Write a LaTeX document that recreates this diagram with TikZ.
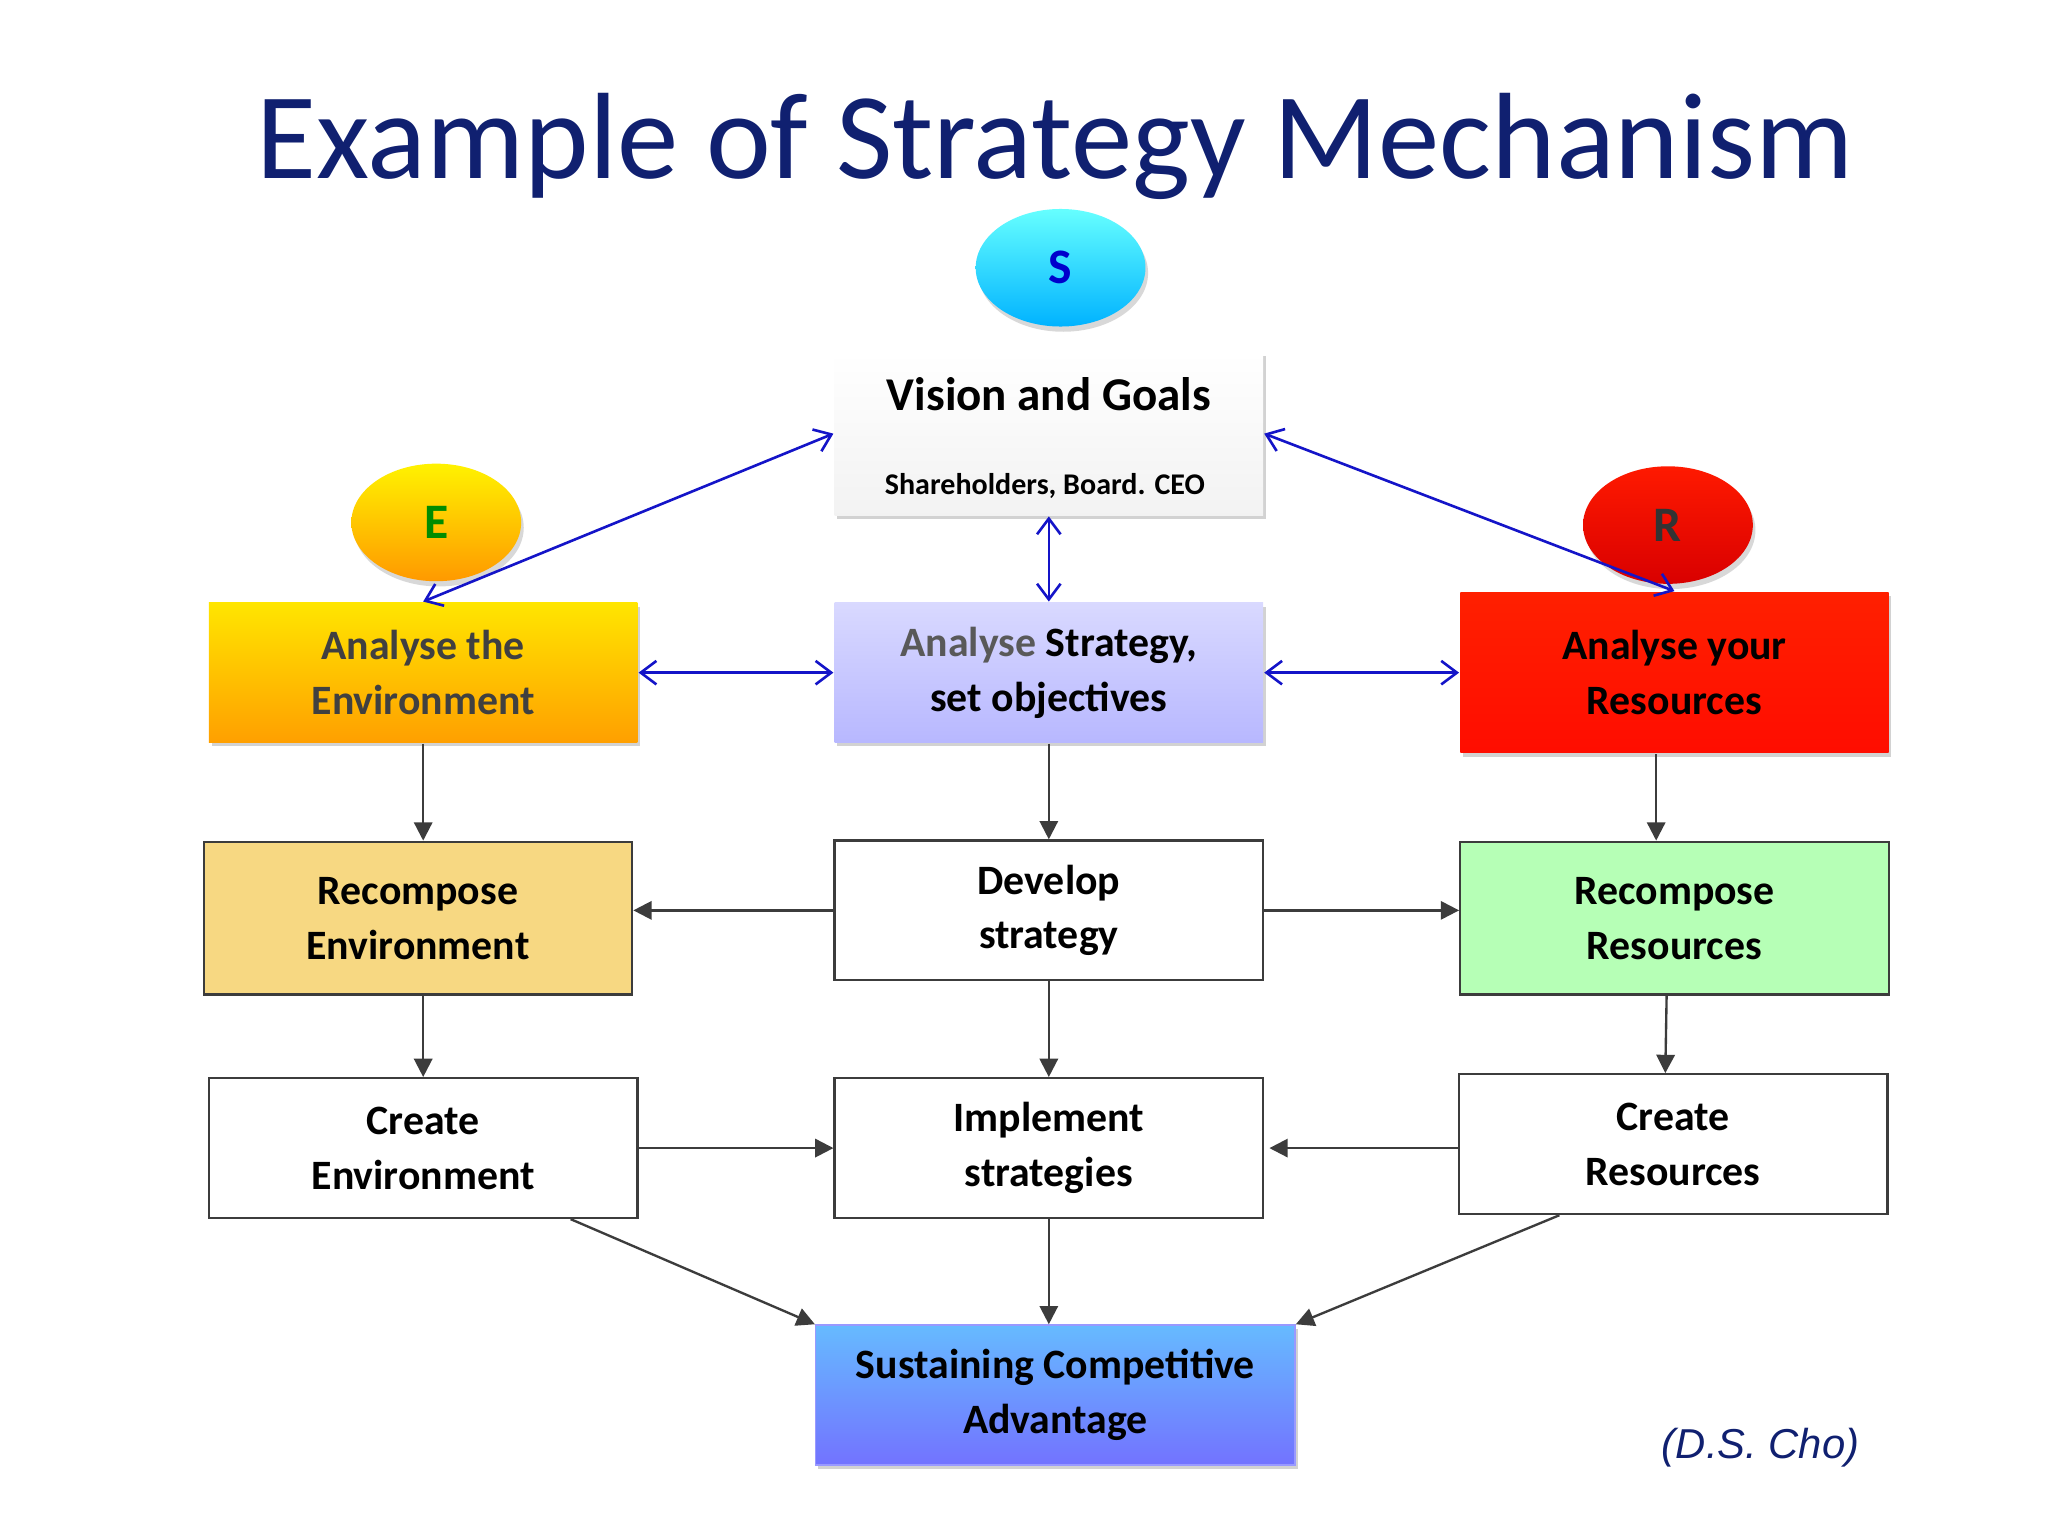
\documentclass[tikz,border=0pt]{standalone}
\usepackage{fontspec}
\setmainfont{Carlito}
\newfontfamily\arialf{Liberation Sans}
\usetikzlibrary{shadows,arrows.meta,shapes.geometric}
\definecolor{navy}{RGB}{16,32,112}
\definecolor{arblue}{RGB}{20,20,200}
\definecolor{arg}{RGB}{60,60,60}
\begin{document}
\begin{tikzpicture}[x=0.5pt,y=-0.5pt,
 box/.style={draw=arg,line width=0.9pt,minimum width=164pt,minimum height=53.5pt,align=center,font=\fontsize{16}{21}\selectfont\bfseries,text=black},
 sbox/.style={box,draw=none,drop shadow={opacity=0.35,shadow xshift=1pt,shadow yshift=-1.5pt}},
 ell/.style={ellipse,minimum width=65pt,minimum height=45pt,font=\fontsize{19}{19}\selectfont\bfseries,drop shadow={opacity=0.3,shadow xshift=1pt,shadow yshift=-2pt}},
 ba/.style={{Straight Barb[length=6pt,width=9pt]}-{Straight Barb[length=6pt,width=9pt]},draw=arblue,line width=1pt},
 ga/.style={-{Triangle[length=7pt,width=7pt]},draw=arg,line width=0.9pt}]
\useasboundingbox[fill=white] (0,0) rectangle (1568,1176);
\node[font=\fontsize{47}{50}\selectfont,text=navy] (title) at (808,112) {Example of Strategy Mechanism};
\node[ell,top color=cyan!60!white,bottom color=cyan!70!blue,text=blue!80!black] (s) at (812,205) {S};
\node[ell,top color=yellow!90!orange,bottom color=orange!80!yellow,text=green!55!black] (e) at (334,400) {E};
\node[ell,top color=red!80!orange,bottom color=red!85!black,text=black!80] (r) at (1277,402) {R};
\node[sbox,minimum height=62.5pt,top color=white,bottom color=gray!10] (vis) at (803,332) {};
\node[font=\fontsize{18}{20}\selectfont\bfseries] (vt) at (803,302) {Vision and Goals};
\node[font=\fontsize{11.5}{13}\selectfont\bfseries] (vs) at (800,372) {Shareholders, Board. CEO};
\node[sbox,top color=yellow!80!orange,bottom color=orange!75!yellow,text=black!75] (ae) at (324,515) {Analyse the\\Environment};
\node[sbox,top color=blue!15!white,bottom color=blue!28!white] (as) at (803,515) {\textcolor{black!65}{Analyse} Strategy,\\set objectives};
\node[sbox,minimum height=61.5pt,top color=red!75!orange,bottom color=red!90!orange] (ar) at (1282,515) {Analyse your\\Resources};
\node[box,minimum height=58.5pt,fill={rgb,255:red,247;green,216;blue,130}] (re) at (320,703) {Recompose\\Environment};
\node[box,fill=white] (dv) at (803,697) {Develop\\strategy};
\node[box,minimum height=58.5pt,fill={rgb,255:red,182;green,255;blue,182}] (rr) at (1282,703) {Recompose\\Resources};
\node[box,fill=white] (ce) at (324,879) {Create\\Environment};
\node[box,fill=white] (im) at (803,879) {Implement\\strategies};
\node[box,fill=white] (cr) at (1281,876) {Create\\Resources};
\node[sbox,minimum width=183.5pt,top color=blue!45!cyan!60!white,bottom color=blue!55!white,draw=blue!40,line width=0.6pt] (sc) at (808,1068) {Sustaining Competitive\\Advantage};
\node[font=\arialf\itshape\fontsize{16}{18}\selectfont,text=navy] (cho) at (1348,1108) {(D.S. Cho)};
\draw[ba] (vis.west) -- (ae.north);
\draw[ba] (vis.east) -- (ar.north);
\draw[ba] (vis.south) -- (as.north);
\draw[ba] (ae.east) -- (as.west);
\draw[ba] (as.east) -- (ar.west);
\draw[ga] (ae.south) -- (re.north -| ae.south);
\draw[ga] (as.south) -- (dv.north);
\draw[ga] ([xshift=-7pt]ar.south) -- ([xshift=-7pt]rr.north);
\draw[ga] (dv.west) -- (re.east |- dv.west);
\draw[ga] (dv.east) -- (rr.west |- dv.east);
\draw[ga] (re.south -| ce.north) -- (ce.north);
\draw[ga] (dv.south) -- (im.north);
\draw[ga] ([xshift=-3pt]rr.south) -- ([xshift=-3pt]cr.north);
\draw[ga] (ce.east |- im.east) -- (im.west);
\draw[ga] (cr.west |- im.east) -- ([xshift=2pt]im.east);
\draw[ga] (im.south) -- (sc.north -| im.south);
\draw[ga] ([xshift=-26pt]ce.south east) -- (sc.north west);
\draw[ga] ([xshift=-126pt]cr.south east) -- (sc.north east);
\end{tikzpicture}
\end{document}
